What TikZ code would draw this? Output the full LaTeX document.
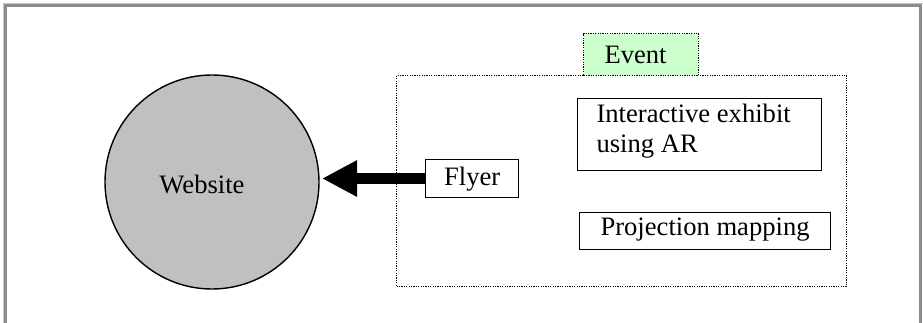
\documentclass[tikz,border=0pt]{standalone}
\usepackage{fontspec}
\setmainfont{Liberation Serif}
\usetikzlibrary{arrows.meta}
\definecolor{framegray}{RGB}{140,140,140}
\definecolor{framelight}{RGB}{200,200,200}
\definecolor{sitegray}{RGB}{192,192,192}
\definecolor{eventgreen}{RGB}{204,255,204}
\begin{document}
\begin{tikzpicture}[x=1pt,y=-1pt,
  every node/.style={font=\fontsize{26.6}{30}\selectfont, text=black},
  dotbox/.style={draw=black, line width=1.3pt, dash pattern=on 1.2pt off 1.2pt},
  solidbox/.style={draw=black, line width=1.4pt, rectangle, inner sep=0pt},
  bigarrow/.style={line width=11pt, -{Triangle[length=35pt,width=34pt]}}]
\useasboundingbox (0,0) rectangle (923,323);
\fill[white] (0,0) rectangle (923,323);
% outer frame (open at bottom)
\draw[framelight, line width=1pt] (3.5,323) -- (3.5,3.5) -- (922.5,3.5);
\draw[framegray, line width=2.2pt] (5.5,323) -- (5.5,5.5) -- (920.5,5.5) -- (920.5,323);
% event area
\node[dotbox, rectangle, anchor=north west, minimum width=450pt, minimum height=211pt, inner sep=0pt] (eventarea) at (396,75) {};
\node[dotbox, rectangle, fill=eventgreen, anchor=north west, minimum width=115pt, minimum height=42pt, inner sep=0pt] (eventlabel) at (583,33) {};
\node[anchor=base west] (eventtext) at (601,64) {Event};
% website
\node[circle, draw=black, line width=1.4pt, fill=sitegray, minimum size=214pt, inner sep=0pt] (site) at (212,182) {};
\node (sitetext) at (202,184) {Website};
% flyer
\node[solidbox, anchor=north west, minimum width=93pt, minimum height=38pt] (flyer) at (425,159) {};
\node (flyertext) at (flyer.center) {Flyer};
% interactive exhibit
\node[solidbox, anchor=north west, minimum width=244pt, minimum height=72pt] (inter) at (577,98) {};
\node[anchor=base west, align=left] (intertext) at (593,123) {Interactive exhibit};
\node[anchor=base west, align=left] (intertext2) at (593,153) {using AR};
% projection mapping
\node[solidbox, anchor=north west, minimum width=251pt, minimum height=37pt] (proj) at (579,212) {};
\node[anchor=base west] (projtext) at (597,235) {Projection mapping};
% arrow
\coordinate (arrowtip) at (322,178.5);
\draw[bigarrow] (flyer.west |- arrowtip) -- (arrowtip);
\end{tikzpicture}
\end{document}
